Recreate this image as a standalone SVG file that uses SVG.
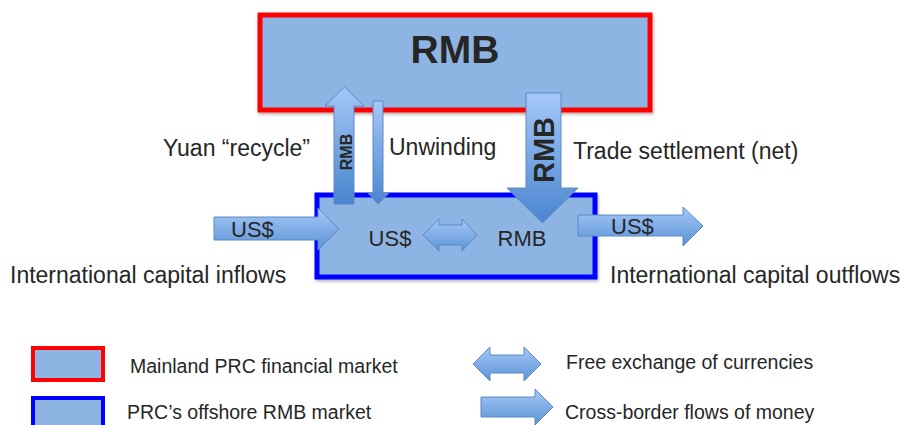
<svg xmlns="http://www.w3.org/2000/svg" width="902" height="425" viewBox="0 0 902 425">
<defs>
<linearGradient id="gv" x1="0" y1="0" x2="0" y2="1"><stop offset="0" stop-color="#a6c8f7"/><stop offset="1" stop-color="#4a85cf"/></linearGradient>
<linearGradient id="gh" x1="0" y1="0" x2="0" y2="1"><stop offset="0" stop-color="#a6c8f7"/><stop offset="1" stop-color="#5b93d6"/></linearGradient>
<filter id="sh" x="-5%" y="-5%" width="110%" height="115%"><feDropShadow dx="1" dy="2" stdDeviation="1.5" flood-color="#000" flood-opacity="0.3"/></filter>
</defs>
<style>
.box{fill:#8eb4e3;}
.arr{stroke:#5a8ac6;stroke-width:1;}
.t{font-family:"Liberation Sans",Arial,sans-serif;fill:#262626;}
.lt{font-family:"Liberation Sans",Arial,sans-serif;fill:#262626;font-size:19.5px;}
</style>
<rect width="902" height="425" fill="#fff"/>
<g id="mainland">
<rect class="box" x="260" y="15" width="390" height="95" stroke="#ff0000" stroke-width="5" filter="url(#sh)"/>
<text class="t" x="455" y="63" font-size="39" font-weight="bold" text-anchor="middle" fill="#333">RMB</text>
</g>
<g id="offshore">
<rect class="box" x="317" y="195" width="278" height="82" stroke="#0000ff" stroke-width="5" filter="url(#sh)"/>
<text class="t" x="390" y="246" font-size="22" text-anchor="middle">US$</text>
<text class="t" x="522" y="246" font-size="22" text-anchor="middle">RMB</text>
</g>
<g id="connectors">
<g id="recycle">
<polygon class="arr" fill="url(#gv)" points="334,204 354,204 354,106 364,106 344.5,87 325,106 334,106"/>
<text class="t" transform="translate(352,152) rotate(-90)" font-size="16" font-weight="bold" text-anchor="middle">RMB</text>
</g>
<g id="unwinding">
<polygon class="arr" fill="url(#gv)" points="373,101 383,101 383,193 389,193 378,204 368,193 373,193"/>
</g>
<g id="trade">
<polygon class="arr" fill="url(#gv)" points="526,93 561,93 561,188 578,188 542.5,223 507,188 526,188"/>
<text class="t" transform="translate(554,150) rotate(-90)" font-size="29" font-weight="bold" text-anchor="middle">RMB</text>
</g>
<g id="inflow">
<polygon class="arr" fill="url(#gh)" points="214,217 318,217 318,208 339,229 318,250 318,240 214,240"/>
<text class="t" x="231" y="237" font-size="22">US$</text>
</g>
<g id="outflow">
<polygon class="arr" fill="url(#gh)" points="578,215 683,215 683,207 703,226 683,246 683,236 578,236"/>
<text class="t" x="611" y="234" font-size="22">US$</text>
</g>
<g id="exchange">
<polygon class="arr" fill="url(#gh)" points="423,235 439,219 439,225 462,225 462,219 477,235 462,251 462,245 439,245 439,251"/>
</g>
</g>
<g id="labels">
<text class="t" x="163" y="156" font-size="23">Yuan “recycle”</text>
<text class="t" x="389" y="155" font-size="23">Unwinding</text>
<text class="t" x="573" y="159" font-size="23">Trade settlement (net)</text>
<text class="t" x="10" y="283" font-size="23">International capital inflows</text>
<text class="t" x="610" y="283" font-size="23">International capital outflows</text>
</g>
<g id="legend">
<rect class="box" x="33" y="348" width="70" height="32" stroke="#ff0000" stroke-width="4"/>
<rect class="box" x="33" y="398" width="70" height="32" stroke="#0000ff" stroke-width="4"/>
<text class="lt" x="130" y="373">Mainland PRC financial market</text>
<text class="lt" x="127" y="419">PRC’s offshore RMB market</text>
<polygon class="arr" fill="url(#gh)" points="473,364 490,347 490,355 524,355 524,347 541,364 524,381 524,373 490,373 490,381"/>
<polygon class="arr" fill="url(#gh)" points="481,397 535,397 535,389 553,407 535,425 535,417 481,417"/>
<text class="lt" x="566" y="369">Free exchange of currencies</text>
<text class="lt" x="565" y="419">Cross-border flows of money</text>
</g>
</svg>
